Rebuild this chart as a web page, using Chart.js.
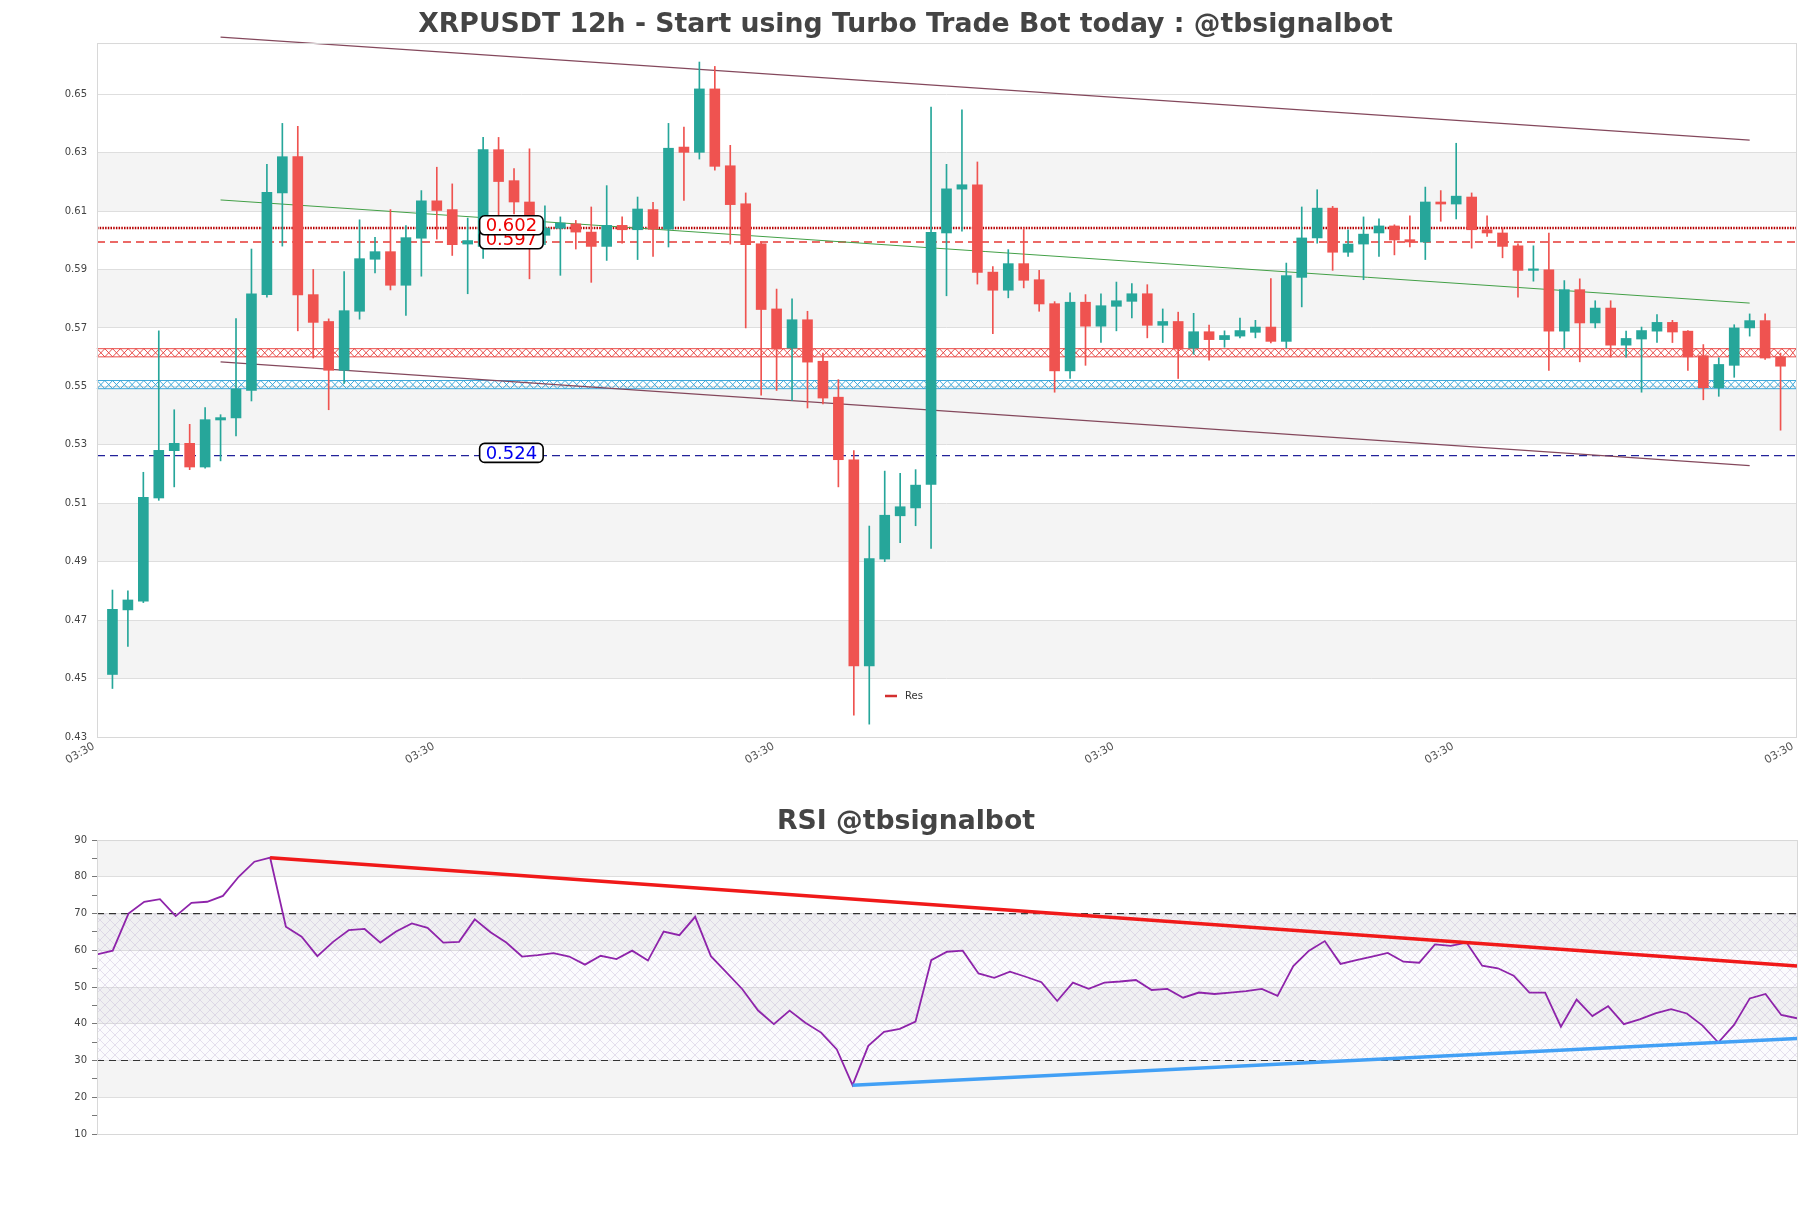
<!DOCTYPE html>
<html>
<head>
<meta charset="UTF-8" />
<script src="https://cdn.jsdelivr.net/npm/chart.js@4.4.1/dist/chart.umd.min.js"></script>
<style>
  html, body { margin: 0; padding: 0; background: #fff; }
  #wrap { position: relative; width: 1811px; height: 1208px; }
  #mainChart { position: absolute; left: 0; top: 0; }
  #rsiChart { position: absolute; left: 0; top: 780px; }
</style>
</head>
<body>
<div id="wrap">
  <canvas id="mainChart" width="1811" height="780"></canvas>
  <canvas id="rsiChart" width="1811" height="428"></canvas>
</div>
<script>
// ---- data (12h candles, index 0..108) ----
const opens = [0.4514,0.4735,0.4765,0.5118,0.528,0.5305,0.5224,0.5385,0.5392,0.5486,
  0.5814,0.6162,0.6286,0.5814,0.5722,0.5555,0.5757,0.5935,0.5961,0.5846,
  0.6007,0.6135,0.6105,0.5987,0.5979,0.631,0.6204,0.6131,0.6017,0.6041,
  0.6056,0.6028,0.5979,0.6051,0.6036,0.6105,0.6038,0.6319,0.6301,0.6518,
  0.6255,0.6125,0.5988,0.5765,0.5631,0.5728,0.5586,0.5463,0.5249,0.4543,
  0.4909,0.5057,0.5084,0.5164,0.6025,0.6175,0.619,0.5891,0.5829,0.592,
  0.5865,0.5783,0.5553,0.5788,0.5706,0.5774,0.5791,0.5817,0.5709,0.5722,
  0.5631,0.5687,0.566,0.5672,0.5685,0.5703,0.5654,0.5873,0.6008,0.611,
  0.5959,0.5987,0.6025,0.6049,0.6002,0.5994,0.6131,0.6124,0.6148,0.6036,
  0.6025,0.5981,0.5897,0.5899,0.5689,0.5831,0.5717,0.5768,0.5641,0.5662,
  0.5689,0.5719,0.5689,0.5605,0.5495,0.5572,0.570,0.5725,0.5601];
const highs = [0.4803,0.480,0.5206,0.569,0.542,0.537,0.5427,0.5403,0.5732,0.597,
  0.626,0.640,0.639,0.590,0.5731,0.5893,0.607,0.601,0.6105,0.605,
  0.617,0.625,0.6193,0.6076,0.6352,0.6352,0.6245,0.6313,0.6118,0.608,
  0.6068,0.6114,0.6187,0.608,0.6148,0.613,0.640,0.6387,0.661,0.6595,
  0.6325,0.6162,0.5995,0.5833,0.580,0.5757,0.5614,0.5523,0.528,0.5022,
  0.521,0.5202,0.5215,0.6456,0.626,0.6446,0.6268,0.591,0.5968,0.6042,
  0.5897,0.579,0.582,0.5814,0.5817,0.5857,0.5852,0.5848,0.5765,0.5754,
  0.575,0.571,0.569,0.5734,0.5726,0.5869,0.5922,0.6114,0.6173,0.6116,
  0.6036,0.608,0.6073,0.6053,0.6084,0.6182,0.617,0.6332,0.6162,0.6084,
  0.6042,0.5988,0.5981,0.6025,0.5862,0.5868,0.5793,0.5793,0.5689,0.5703,
  0.5746,0.5726,0.5691,0.5643,0.5598,0.5711,0.5748,0.5748,0.5614];
const lows = [0.4466,0.461,0.476,0.511,0.5156,0.5215,0.522,0.5245,0.533,0.545,
  0.5805,0.598,0.569,0.5597,0.542,0.551,0.573,0.5888,0.583,0.5743,
  0.5877,0.6004,0.5948,0.5817,0.5938,0.597,0.609,0.5868,0.5985,0.588,
  0.597,0.5856,0.5931,0.599,0.5934,0.5945,0.5977,0.6136,0.6278,0.624,
  0.5987,0.570,0.547,0.5486,0.5452,0.5426,0.544,0.5156,0.4375,0.4344,
  0.490,0.4965,0.5023,0.4945,0.581,0.6031,0.585,0.568,0.5803,0.5837,
  0.5757,0.548,0.5527,0.5572,0.565,0.569,0.5734,0.5666,0.565,0.5527,
  0.561,0.559,0.5634,0.5666,0.5666,0.5649,0.5631,0.5772,0.599,0.5897,
  0.5945,0.5865,0.5945,0.595,0.5977,0.5934,0.6065,0.6073,0.5973,0.6013,
  0.594,0.5805,0.586,0.5555,0.563,0.5584,0.570,0.560,0.560,0.548,
  0.565,0.565,0.5555,0.5454,0.5466,0.5531,0.5672,0.5592,0.535];
const closes = [0.4737,0.4769,0.512,0.5281,0.5305,0.5224,0.5386,0.5393,0.5491,0.5817,
  0.6164,0.6286,0.5813,0.5719,0.5555,0.5759,0.5937,0.5961,0.5846,0.6009,
  0.6135,0.6102,0.5985,0.5999,0.631,0.6201,0.6131,0.604,0.6042,0.6059,
  0.6028,0.5979,0.6051,0.6036,0.6107,0.6038,0.6315,0.6301,0.6518,0.6253,
  0.6122,0.5985,0.5763,0.5628,0.5728,0.5583,0.546,0.5249,0.4543,0.4911,
  0.5059,0.5088,0.5162,0.6027,0.6176,0.619,0.589,0.5829,0.592,0.5863,
  0.5782,0.5553,0.5788,0.5706,0.5776,0.5793,0.5817,0.5709,0.5722,0.5628,
  0.5687,0.566,0.5674,0.5691,0.5703,0.5654,0.5879,0.6008,0.611,0.5959,
  0.5987,0.6021,0.6049,0.6001,0.5994,0.6131,0.6124,0.6151,0.6036,0.6025,
  0.5979,0.5897,0.5899,0.5689,0.5831,0.5717,0.5768,0.5641,0.5664,0.5691,
  0.5719,0.5686,0.5601,0.5495,0.5575,0.57,0.5725,0.5597,0.5569];

const rsiValues = [58.9,59.9,70.0,73.2,73.9,69.3,72.9,73.2,74.8,80.0,
  84.1,85.2,66.4,63.7,58.4,62.3,65.5,65.8,62.1,65.1,
  67.3,66.1,62.1,62.3,68.4,64.9,62.1,58.3,58.7,59.2,
  58.3,56.1,58.5,57.6,59.9,57.2,65.1,64.1,69.1,58.4,
  53.9,49.4,43.6,39.9,43.6,40.3,37.6,33.0,23.3,34.0,
  37.8,38.6,40.6,57.3,59.6,59.9,53.7,52.5,54.2,52.8,
  51.3,46.2,51.2,49.5,51.2,51.5,51.9,49.2,49.5,47.1,
  48.5,48.1,48.5,48.9,49.5,47.6,55.7,59.9,62.5,56.3,
  57.3,58.3,59.3,56.9,56.6,61.6,61.2,62.1,55.8,55.1,
  53.1,48.5,48.5,39.2,46.6,42.1,44.8,39.9,41.2,42.8,
  44.0,42.8,39.5,34.9,39.7,46.9,48.1,42.4,41.5];

// axes
const xTickValues = [-1, 21, 43, 65, 87, 109];
const xTickLabel = '03:30';
const priceTicks = [0.43,0.45,0.47,0.49,0.51,0.53,0.55,0.57,0.59,0.61,0.63,0.65];
const priceMin = 0.43, priceMax = 0.6675;
const greyPriceBands = [[0.45,0.47],[0.49,0.51],[0.53,0.55],[0.57,0.59],[0.61,0.63]];

// trend lines [index, price]
const upperChannel = [[7, 0.6695], [106, 0.6343]];
const lowerChannel = [[7, 0.5584], [106, 0.5229]];
const midTrend = [[7, 0.6138], [106, 0.5785]];

// horizontal levels
const dottedLevel = 0.6042;
const dashedRedLevel = 0.5994;
const dashedBlueLevel = 0.5263;
const resBand = [0.5601, 0.5629];
const supBand = [0.5492, 0.5520];
const levelLabels = [
  { text: '0.524', price: 0.5263, color: '#0000ee' },
  { text: '0.597', price: 0.5994, color: '#ee0000' },
  { text: '0.602', price: 0.6042, color: '#ee0000' }
];
const labelIndex = 25.83;

// RSI
const rsiTicks = [10,15,20,25,30,35,40,45,50,55,60,65,70,75,80,85,90];
const rsiGreyBands = [[80,90],[60,70],[40,50],[20,30]];
const rsiHatchBand = [30, 70];
const rsiLevels = [70, 30];
const rsiDownTrend = [[11, 85.2], [108, 55.7]];
const rsiUpTrend = [[48, 23.3], [108, 36.0]];

// ---- styles ----
Chart.defaults.font.family = "'DejaVu Sans', sans-serif";
const GREEN = '#26a69a', RED = '#ef5350';
const GRID = '#dedede', BAND = '#f4f4f4', FRAME = '#d8d8d8';

const idx = opens.map((_, i) => i);
const candleColor = idx.map(i => closes[i] >= opens[i] ? GREEN : RED);
const toXY = pts => pts.map(p => ({ x: p[0], y: p[1] }));
const flat = (v, a, b) => [{ x: a, y: v }, { x: b, y: v }];

function lineDs(data, color, width, dash, order) {
  return { type: 'line', data: data, borderColor: color, borderWidth: width,
    borderDash: dash || [], pointRadius: 0, fill: false, clip: false, order: order, tension: 0 };
}

function xBand(ctx, area, yTop, yBot, color) {
  ctx.save();
  ctx.strokeStyle = color;
  ctx.lineWidth = 0.9;
  ctx.beginPath();
  ctx.moveTo(area.left, yTop); ctx.lineTo(area.right, yTop);
  ctx.moveTo(area.left, yBot); ctx.lineTo(area.right, yBot);
  const step = 7.8;
  for (let x = area.left; x < area.right; x += step) {
    const x2 = Math.min(x + step, area.right);
    ctx.moveTo(x, yTop); ctx.lineTo(x2, yBot);
    ctx.moveTo(x, yBot); ctx.lineTo(x2, yTop);
  }
  ctx.stroke();
  ctx.restore();
}

const mainDecor = {
  id: 'mainDecor',
  beforeDraw(chart) {
    const { ctx, chartArea: a, scales: { y } } = chart;
    ctx.save();
    ctx.fillStyle = BAND;
    greyPriceBands.forEach(b => {
      const t = y.getPixelForValue(b[1]), btm = y.getPixelForValue(b[0]);
      ctx.fillRect(a.left, t, a.right - a.left, btm - t);
    });
    ctx.restore();
  },
  beforeDatasetsDraw(chart) {
    const { ctx, chartArea: a, scales: { y } } = chart;
    xBand(ctx, a, y.getPixelForValue(resBand[1]), y.getPixelForValue(resBand[0]), '#e53935');
    xBand(ctx, a, y.getPixelForValue(supBand[1]), y.getPixelForValue(supBand[0]), '#2a9fd6');
  },
  afterDatasetsDraw(chart) {
    const { ctx, chartArea: a, scales: { x, y } } = chart;
    ctx.save();
    ctx.strokeStyle = FRAME;
    ctx.lineWidth = 1;
    ctx.strokeRect(a.left + 0.5, a.top + 0.5, a.right - a.left, a.bottom - a.top);
    // level labels
    ctx.font = "18px 'DejaVu Sans'";
    ctx.textBaseline = 'middle';
    ctx.textAlign = 'center';
    levelLabels.forEach(l => {
      const cx = x.getPixelForValue(labelIndex);
      const cy = y.getPixelForValue(l.price) - 2.7;
      const w = ctx.measureText(l.text).width + 12, h = 19;
      ctx.beginPath();
      ctx.roundRect(cx - w / 2, cy - h / 2, w, h, 5);
      ctx.fillStyle = '#fff';
      ctx.fill();
      ctx.strokeStyle = '#000';
      ctx.lineWidth = 1.6;
      ctx.stroke();
      ctx.fillStyle = l.color;
      ctx.fillText(l.text, cx, cy + 1);
    });
    // legend
    const lx = a.left + 788, ly = a.bottom - 41;
    ctx.strokeStyle = '#d32f2f';
    ctx.lineWidth = 2.5;
    ctx.beginPath(); ctx.moveTo(lx, ly); ctx.lineTo(lx + 12, ly); ctx.stroke();
    ctx.fillStyle = '#333';
    ctx.font = "10px 'DejaVu Sans'";
    ctx.textAlign = 'left';
    ctx.fillText('Res', lx + 20, ly);
    ctx.restore();
  }
};

new Chart(document.getElementById('mainChart'), {
  type: 'bar',
  data: {
    datasets: [
      { type: 'bar', data: idx.map(i => ({ x: i, y: [opens[i], closes[i]] })),
        backgroundColor: candleColor, barThickness: 10, minBarLength: 1.5, grouped: false, order: 0 },
      { type: 'bar', data: idx.map(i => ({ x: i, y: [lows[i], highs[i]] })),
        backgroundColor: candleColor, barThickness: 1, grouped: false, order: 1 },
      lineDs(toXY(upperChannel), '#84485c', 1.2, null, 2),
      lineDs(toXY(lowerChannel), '#84485c', 1.2, null, 2),
      lineDs(toXY(midTrend), '#43a047', 1, null, 2),
      lineDs(flat(dottedLevel, -1, 109), '#b80000', 2.4, [1.5, 1.2], 3),
      lineDs(flat(dashedRedLevel, -1, 109), '#e53935', 1.4, [8, 5], 3),
      lineDs(flat(dashedBlueLevel, -1, 109), '#22229a', 1.4, [8, 5], 3)
    ]
  },
  options: {
    responsive: false,
    animation: false,
    layout: { padding: { left: 15, right: 15, top: 0, bottom: 0 } },
    scales: {
      x: {
        type: 'linear', min: -1, max: 109, offset: false,
        afterBuildTicks: s => { s.ticks = xTickValues.map(v => ({ value: v })); },
        afterFit: s => { s.height = 43; },
        grid: { display: false },
        border: { display: false },
        ticks: { autoSkip: false, minRotation: 30, maxRotation: 30, padding: -7,
          color: '#555', font: { size: 11 }, callback: () => xTickLabel + ' ' }
      },
      y: {
        min: priceMin, max: priceMax,
        afterBuildTicks: s => { s.ticks = priceTicks.map(v => ({ value: v })); },
        afterFit: s => { s.width = 82; },
        grid: { color: GRID, drawTicks: false },
        border: { display: false },
        ticks: { padding: 10, color: '#444', font: { size: 10 }, callback: v => v.toFixed(2) }
      }
    },
    plugins: {
      legend: { display: false },
      tooltip: { enabled: false },
      title: { display: true, text: 'XRPUSDT 12h - Start using Turbo Trade Bot today : @tbsignalbot',
        color: '#444', font: { size: 26.7, weight: 'bold' }, padding: { top: 9, bottom: 2 } }
    }
  },
  plugins: [mainDecor]
});

// ---- RSI panel ----
function hatchPattern(ctx) {
  const c = document.createElement('canvas');
  c.width = 10; c.height = 10;
  const g = c.getContext('2d');
  g.strokeStyle = 'rgba(180,165,205,0.4)';
  g.lineWidth = 0.8;
  g.beginPath();
  g.moveTo(0, 0); g.lineTo(10, 10);
  g.moveTo(10, 0); g.lineTo(0, 10);
  g.stroke();
  return ctx.createPattern(c, 'repeat');
}

const rsiDecor = {
  id: 'rsiDecor',
  beforeDraw(chart) {
    const { ctx, chartArea: a, scales: { y } } = chart;
    ctx.save();
    ctx.fillStyle = BAND;
    rsiGreyBands.forEach(b => {
      const t = y.getPixelForValue(b[1]), btm = y.getPixelForValue(b[0]);
      ctx.fillRect(a.left, t, a.right - a.left, btm - t);
    });
    ctx.restore();
  },
  beforeDatasetsDraw(chart) {
    const { ctx, chartArea: a, scales: { y } } = chart;
    const t = y.getPixelForValue(rsiHatchBand[1]), btm = y.getPixelForValue(rsiHatchBand[0]);
    ctx.save();
    ctx.fillStyle = 'rgba(205,195,220,0.07)';
    ctx.fillRect(a.left, t, a.right - a.left, btm - t);
    ctx.fillStyle = hatchPattern(ctx);
    ctx.fillRect(a.left, t, a.right - a.left, btm - t);
    ctx.restore();
  },
  afterDatasetsDraw(chart) {
    const { ctx, chartArea: a } = chart;
    ctx.save();
    ctx.strokeStyle = FRAME;
    ctx.lineWidth = 1;
    ctx.strokeRect(a.left + 0.5, a.top + 0.5, a.right - a.left, a.bottom - a.top);
    ctx.restore();
  }
};

new Chart(document.getElementById('rsiChart'), {
  type: 'line',
  data: {
    datasets: [
      lineDs(toXY(rsiDownTrend), 'rgb(240,25,25)', 3.5, null, 0),
      lineDs(toXY(rsiUpTrend), 'rgb(66,160,245)', 3.5, null, 0),
      Object.assign(lineDs(rsiValues.map((v, i) => ({ x: i, y: v })), '#8e24aa', 1.8, null, 1), { clip: true }),
      lineDs(flat(rsiLevels[0], 0, rsiValues.length - 1), '#333', 1.2, [7, 5], 2),
      lineDs(flat(rsiLevels[1], 0, rsiValues.length - 1), '#333', 1.2, [7, 5], 2)
    ]
  },
  options: {
    responsive: false,
    animation: false,
    layout: { padding: { left: 15, right: 14, top: 0, bottom: 74 } },
    scales: {
      x: { type: 'linear', min: 0, max: rsiValues.length - 1, display: false },
      y: {
        min: 10, max: 90,
        afterBuildTicks: s => { s.ticks = rsiTicks.map(v => ({ value: v })); },
        afterFit: s => { s.width = 82; },
        grid: { color: c => (c.tick && c.tick.value % 10 === 0) ? GRID : 'rgba(0,0,0,0)',
          tickColor: '#777', tickLength: 5 },
        border: { display: false },
        ticks: { padding: 5, color: '#444', font: { size: 10 },
          callback: v => (v % 10 === 0 ? String(v) : '') }
      }
    },
    plugins: {
      legend: { display: false },
      tooltip: { enabled: false },
      title: { display: true, text: 'RSI @tbsignalbot', color: '#444',
        font: { size: 26.7, weight: 'bold' }, padding: { top: 26.5, bottom: 1.5 } }
    }
  },
  plugins: [rsiDecor]
});
</script>
</body>
</html>
